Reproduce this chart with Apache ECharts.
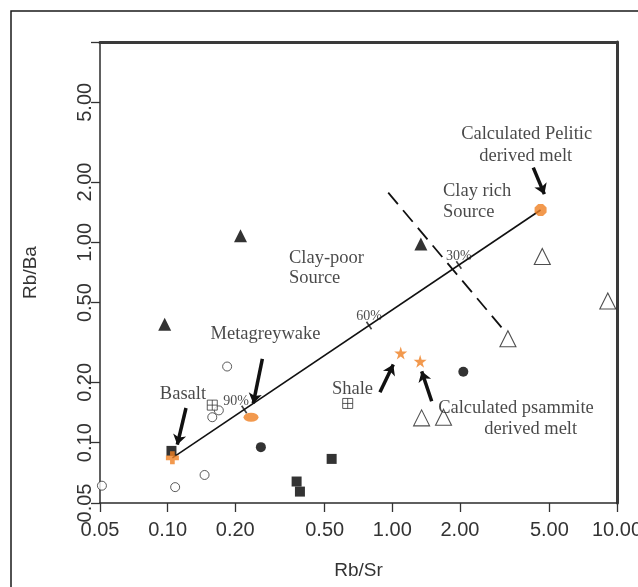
<!DOCTYPE html>
<html>
<head>
<meta charset="utf-8">
<script src="https://cdn.jsdelivr.net/npm/echarts@6/dist/echarts.min.js"></script>
<style>
  html, body { margin: 0; padding: 0; background: #fff; }
  #chart { width: 638px; height: 587px; }
</style>
</head>
<body>
<div id="chart"></div>
<script>
// Axis ticks (log scales on both axes)
const xTicks = [0.05, 0.1, 0.2, 0.5, 1, 2, 5, 10];
const xLabelTicks = [0.05, 0.1, 0.2, 0.5, 1, 2, 5, 10];
const yTicks = [0.05, 0.1, 0.2, 0.5, 1, 2, 5, 10];
const yLabelTicks = [0.05, 0.1, 0.2, 0.5, 1, 2, 5];

// Sample groups: [Rb/Sr, Rb/Ba]
const filledTriangles = [[0.211, 1.08], [0.097, 0.39], [1.34, 0.98]];
const openTriangles = [[4.65, 0.85], [9.1, 0.51], [3.27, 0.33], [1.35, 0.133], [1.69, 0.134]];
const filledCircles = [[0.26, 0.095], [2.07, 0.226]];
const openCircles = [[0.051, 0.061], [0.108, 0.060], [0.146, 0.069], [0.158, 0.134], [0.169, 0.145], [0.184, 0.24]];
const boxedCrosses = [[0.158, 0.154], [0.633, 0.157]];
const filledSquares = [[0.104, 0.091], [0.375, 0.064], [0.388, 0.057], [0.537, 0.083]];

// End-members and calculated melts
const peliticMelt = [[4.57, 1.45]];
const metagreywake = [[0.235, 0.134]];
const basalt = [[0.105, 0.084]];
const psammiteMelt = [[1.09, 0.28], [1.33, 0.255]];

// Mixing line between basalt and pelitic melt, with percentage marks
const mixingLine = [[0.105, 0.084], [4.57, 1.45]];
const mixFractions = [0.195, 0.534, 0.778];
const mixLabels = ['90%', '60%', '30%'];

// Clay-poor / clay-rich source divide
const sourceDivide = [[0.959, 1.77], [3.12, 0.367]];

// Pointer arrows: [tail, head]
const arrows = [
  [[4.24, 2.36], [4.75, 1.74]],
  [[0.264, 0.262], [0.2405, 0.157]],
  [[0.1207, 0.149], [0.1104, 0.0977]],
  [[0.881, 0.1785], [1.01, 0.2455]],
  [[1.497, 0.161], [1.351, 0.227]]
];

// Annotation text lines: [text, x, y, align]
const notes = [
  ['Calculated Pelitic', 3.963, 3.467, 'center'],
  ['derived melt', 3.922, 2.707, 'center'],
  ['Clay rich', 1.681, 1.805, 'left'],
  ['Source', 1.681, 1.408, 'left'],
  ['Clay-poor', 0.3467, 0.8386, 'left'],
  ['Source', 0.3467, 0.6607, 'left'],
  ['Metagreywake', 0.2726, 0.3467, 'center'],
  ['Basalt', 0.117, 0.1738, 'center'],
  ['Shale', 0.6648, 0.184, 'center'],
  ['Calculated psammite', 3.551, 0.149, 'center'],
  ['derived melt', 4.128, 0.1171, 'center']
];

const ORANGE = '#EF7F22';
const SERIF = '"Liberation Serif", "Times New Roman", serif';
const SANS = '"Liberation Sans", Arial, sans-serif';

const SYM = {
  boxCross: 'path://M0,0H10V10H0ZM5,0V10M0,5H10',
  plus: 'path://M3.2,0H6.8V3.2H10V6.8H6.8V10H3.2V6.8H0V3.2H3.2Z',
  octagon: 'path://M3,0H7L10,3V7L7,10H3L0,7V3Z',
  star: 'path://M50,0L61,35L98,35L68,57L79,91L50,70L21,91L32,57L2,35L39,35Z'
};

const lx0 = Math.log10(mixingLine[0][0]), ly0 = Math.log10(mixingLine[0][1]);
const lx1 = Math.log10(mixingLine[1][0]), ly1 = Math.log10(mixingLine[1][1]);
const mixMarks = mixFractions.map((f, i) => ({
  value: [Math.pow(10, lx0 + f * (lx1 - lx0)), Math.pow(10, ly0 + f * (ly1 - ly0))],
  label: { formatter: mixLabels[i], offset: i === 0 ? [-8, 4] : [0, 3] }
}));

function logAxis(pos, extra) {
  return Object.assign({
    type: 'log',
    logBase: 10,
    min: 0.05,
    max: 10,
    position: pos,
    splitLine: { show: false },
    minorTick: { show: false },
    axisLine: { show: true, lineStyle: { color: '#2b2b2b', width: 1.5 } }
  }, extra);
}

function scatter(name, data, symbol, size, itemStyle, z) {
  return {
    name, type: 'scatter', data, symbol, symbolSize: size,
    itemStyle, z: z || 3, silent: true
  };
}

const chart = echarts.init(document.getElementById('chart'), null, { renderer: 'canvas' });

const option = {
  animation: false,
  backgroundColor: '#fff',
  grid: { left: 100, top: 42, width: 517, height: 461, containLabel: false, outerBoundsMode: 'none' },
  graphic: [{
    type: 'rect',
    shape: { x: 11, y: 11, width: 800, height: 800 },
    style: { fill: 'none', stroke: '#1a1a1a', lineWidth: 1.5 },
    silent: true
  }],
  xAxis: [
    logAxis('bottom', {
      name: 'Rb/Sr',
      nameLocation: 'middle',
      nameGap: 58,
      nameTextStyle: { fontFamily: SANS, fontSize: 19, color: '#333' },
      axisTick: { show: true, customValues: xTicks, length: 9, lineStyle: { color: '#333', width: 1.3 } },
      axisLabel: {
        customValues: xLabelTicks, formatter: v => v.toFixed(2),
        fontFamily: SANS, fontSize: 20, color: '#333', margin: 17
      }
    }),
    logAxis('top', {
      axisLine: { show: true, lineStyle: { color: '#3a3a3a', width: 3 } },
      axisTick: { show: false }, axisLabel: { show: false }
    })
  ],
  yAxis: [
    logAxis('left', {
      name: 'Rb/Ba',
      nameLocation: 'middle',
      nameGap: 60,
      nameRotate: 90,
      nameTextStyle: { fontFamily: SANS, fontSize: 19, color: '#333' },
      axisTick: { show: true, customValues: yTicks, length: 9, lineStyle: { color: '#333', width: 1.3 } },
      axisLabel: {
        customValues: yLabelTicks, formatter: v => v.toFixed(2), rotate: 90,
        fontFamily: SANS, fontSize: 20, color: '#333', margin: 5
      }
    }),
    logAxis('right', {
      axisLine: { show: true, lineStyle: { color: '#3a3a3a', width: 3 } },
      axisTick: { show: false }, axisLabel: { show: false }
    })
  ],
  series: [
    {
      name: 'mixing', type: 'line', data: mixingLine, symbol: 'none', silent: true,
      lineStyle: { color: '#111', width: 1.6 }, z: 2
    },
    {
      name: 'divide', type: 'line', data: sourceDivide, symbol: 'none', silent: true,
      lineStyle: { color: '#111', width: 1.8, type: [15, 8] }, z: 2
    },
    {
      name: 'mix marks', type: 'scatter', data: mixMarks, symbol: 'rect',
      symbolSize: [1.6, 9], symbolRotate: 34, silent: true, z: 2,
      itemStyle: { color: '#111' },
      label: {
        show: true, position: 'top', distance: 1,
        fontFamily: SERIF, fontSize: 14, color: '#222'
      }
    },
    {
      name: 'arrows', type: 'lines', coordinateSystem: 'cartesian2d', silent: true,
      data: arrows.map(a => ({ coords: a })),
      symbol: ['none', 'arrow'], symbolSize: [0, 10],
      lineStyle: { color: '#111', width: 3.5, opacity: 1 }, z: 4
    },
    scatter('filled triangles', filledTriangles, 'triangle', 13, { color: '#000' }),
    scatter('open triangles', openTriangles, 'triangle', 16, { color: '#fff', borderColor: '#222', borderWidth: 1.1 }),
    scatter('filled circles', filledCircles, 'circle', 10, { color: '#000' }),
    scatter('open circles', openCircles, 'circle', 9, { color: '#fff', borderColor: '#333', borderWidth: 1 }),
    scatter('boxed crosses', boxedCrosses, SYM.boxCross, 10, { color: '#fff', borderColor: '#333', borderWidth: 1 }),
    scatter('filled squares', filledSquares, 'rect', 10, { color: '#000' }),
    scatter('basalt', basalt, SYM.plus, 13, { color: ORANGE }, 5),
    scatter('metagreywake', metagreywake, 'circle', [15, 9], { color: ORANGE }, 5),
    scatter('pelitic melt', peliticMelt, SYM.octagon, 12, { color: ORANGE }, 5),
    scatter('psammite melt', psammiteMelt, SYM.star, 13, { color: ORANGE }, 5),
    {
      name: 'notes', type: 'scatter', symbolSize: 0, silent: true, z: 6,
      data: notes.map(n => ({
        value: [n[1], n[2]],
        label: {
          formatter: n[0],
          position: n[3] === 'left' ? 'right' : 'inside',
          distance: 0
        }
      })),
      label: {
        show: true, fontFamily: SERIF, fontSize: 18.5, color: '#1a1a1a'
      }
    }
  ]
};

chart.setOption(option);

// Orient the percentage marks perpendicular to the mixing line
const p0 = chart.convertToPixel({ gridIndex: 0 }, mixingLine[0]);
const p1 = chart.convertToPixel({ gridIndex: 0 }, mixingLine[1]);
const angle = Math.atan2(p0[1] - p1[1], p1[0] - p0[0]) * 180 / Math.PI;
chart.setOption({ series: [{}, {}, { symbolRotate: angle }] });
</script>
</body>
</html>
